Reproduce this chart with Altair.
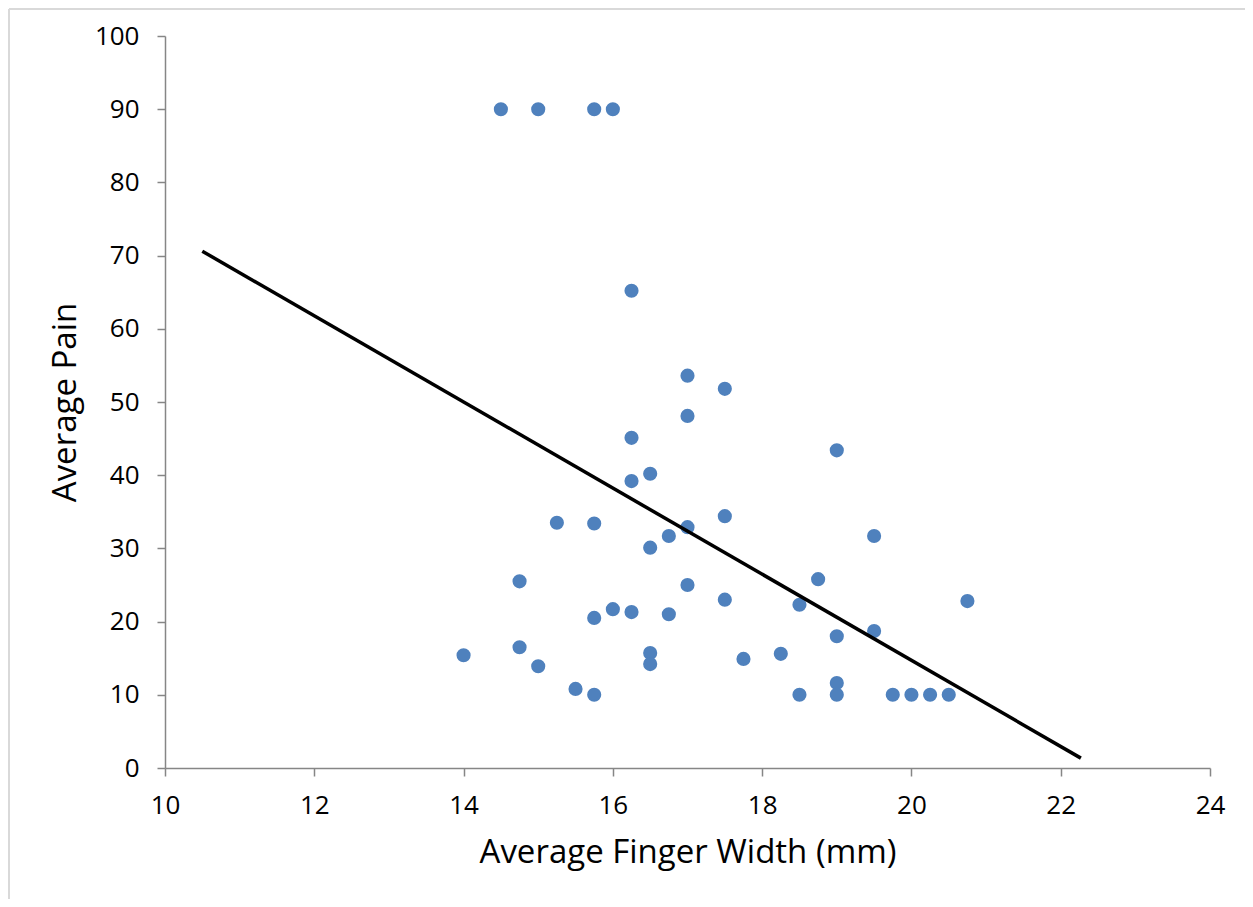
import altair as alt
import pandas as pd

finger_width = [14.5, 15, 15.75, 16, 16.25, 17, 17.5, 17, 16.25, 19, 16.5, 16.25,
                15.25, 15.75, 17.5, 17, 16.75, 19.5, 16.5, 18.75, 14.75, 17,
                17.5, 20.75, 18.5, 16, 16.25, 16.75, 15.75, 19.5, 19,
                14.75, 16.5, 18.25, 14, 17.75, 16.5, 15, 19, 15.5,
                15.75, 18.5, 19, 19.75, 20, 20.25, 20.5]
avg_pain = [90, 90, 90, 90, 65.2, 53.6, 51.8, 48.1, 45.1, 43.4, 40.2, 39.2,
            33.5, 33.4, 34.4, 32.9, 31.7, 31.7, 30.1, 25.8, 25.5, 25.0,
            23.0, 22.8, 22.3, 21.7, 21.3, 21.0, 20.5, 18.7, 18.0,
            16.5, 15.7, 15.6, 15.4, 14.9, 14.2, 13.9, 11.6, 10.8,
            10, 10, 10, 10, 10, 10, 10]

trend_x = [10.5, 22.27]
trend_y = [70.6, 1.35]

x_ticks = [10, 12, 14, 16, 18, 20, 22, 24]
y_ticks = [0, 10, 20, 30, 40, 50, 60, 70, 80, 90, 100]

pts = pd.DataFrame({"w": finger_width, "p": avg_pain})
trend = pd.DataFrame({"w": trend_x, "p": trend_y})

FONT = "Open Sans"
AXIS_COL = "#868686"

xscale = alt.Scale(domain=[10, 24], nice=False, zero=False)
yscale = alt.Scale(domain=[0, 100], nice=False)

xaxis = alt.Axis(values=x_ticks, format="d", title="Average Finger Width (mm)", grid=False,
                 domainColor=AXIS_COL, domainWidth=1.5, tickColor=AXIS_COL,
                 tickWidth=1.5, tickSize=8, labelFont=FONT, labelFontSize=26,
                 labelColor="#000000", labelPadding=16, titleFont=FONT,
                 titleFontSize=33, titleFontWeight="normal", titleColor="#000000",
                 titlePadding=18, labelFlush=False)
yaxis = alt.Axis(values=y_ticks, format="d", title="Average Pain", grid=False,
                 domainColor=AXIS_COL, domainWidth=1.5, tickColor=AXIS_COL,
                 tickWidth=1.5, tickSize=8, labelFont=FONT, labelFontSize=26,
                 labelColor="#000000", labelPadding=18, titleFont=FONT,
                 titleFontSize=33, titleFontWeight="normal", titleColor="#000000",
                 titlePadding=12, labelFlush=False)

one = pd.DataFrame({"a": [0]})
frame_left = alt.Chart(one).mark_rule(color="#d9d9d9", strokeWidth=2, clip=False).encode(
    x=alt.value(-156), y=alt.value(-27), y2=alt.value(900))
frame_top = alt.Chart(one).mark_rule(color="#d9d9d9", strokeWidth=2, clip=False).encode(
    x=alt.value(-156), x2=alt.value(1100), y=alt.value(-27))

points = alt.Chart(pts).mark_circle(size=200, color="#4F81BD", opacity=1).encode(
    x=alt.X("w:Q", scale=xscale, axis=xaxis),
    y=alt.Y("p:Q", scale=yscale, axis=yaxis),
)

line = alt.Chart(trend).mark_line(color="#000000", strokeWidth=3.5).encode(
    x=alt.X("w:Q", scale=xscale),
    y=alt.Y("p:Q", scale=yscale),
)

chart = alt.layer(frame_left, frame_top, points, line).properties(
    width=1045, height=732,
    autosize=alt.AutoSizeParams(type="none"),
    padding={"left": 157, "top": 28, "right": 35, "bottom": 131},
    background="white",
).configure_view(stroke=None)

chart.save("out.html", embed_options={"renderer": "svg", "actions": False})
